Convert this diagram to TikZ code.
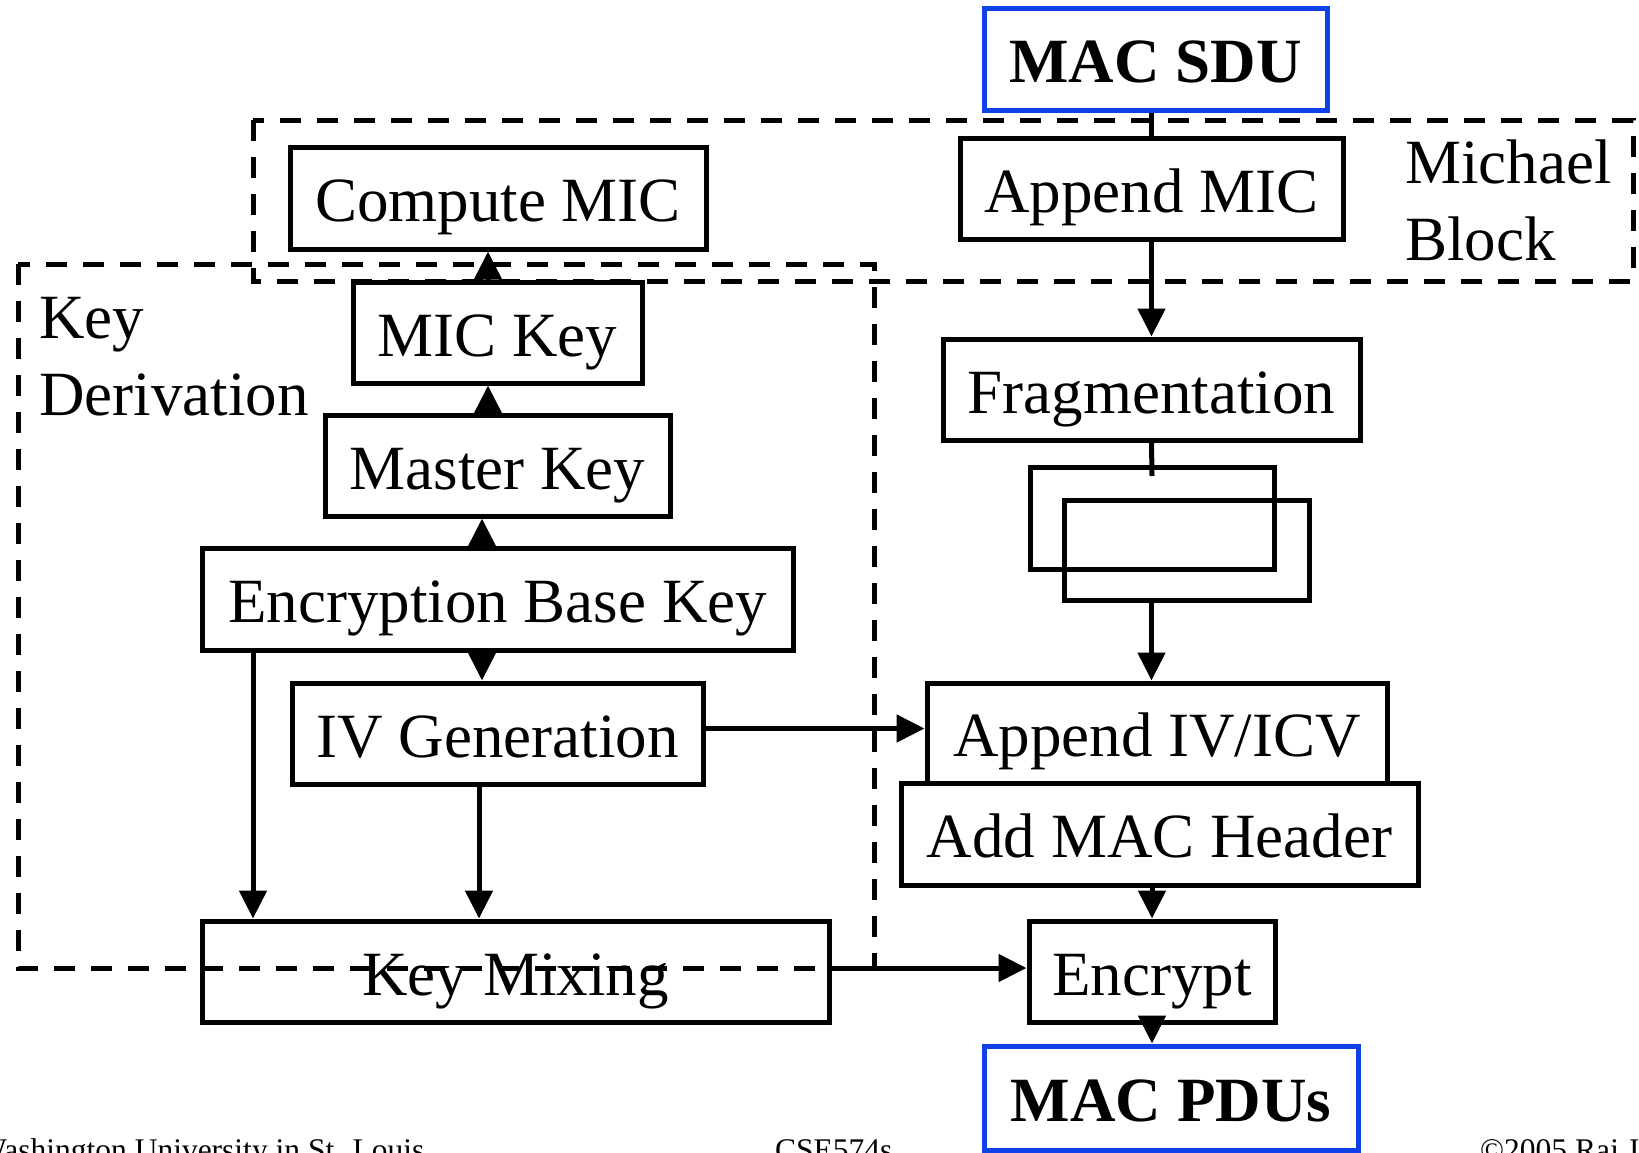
\documentclass[tikz,border=0pt]{standalone}
\usepackage{fontspec}
\setmainfont{Liberation Serif}
\usetikzlibrary{arrows.meta}
\definecolor{pblue}{RGB}{16,64,232}
\begin{document}
\begin{tikzpicture}[x=1pt,y=-1pt,
  box/.style={draw, line width=5pt, inner sep=0pt, text height=47pt, text depth=0pt, font=\fontsize{63}{76}\selectfont},
  bluebox/.style={draw=pblue, line width=5pt, inner sep=0pt, text height=47pt, text depth=0pt, font=\fontsize{63}{76}\selectfont\bfseries},
  arr/.style={line width=5pt, -{Triangle[length=28pt,width=27pt]}},
  plain/.style={line width=5pt},
  dashbox/.style={line width=5pt, dash pattern=on 21pt off 16pt},
  lbl/.style={anchor=base west, inner sep=0pt, font=\fontsize{63}{76}\selectfont},
  foot/.style={anchor=base west, inner sep=0pt, font=\fontsize{31.5}{36}\selectfont}]
\useasboundingbox (0,0) rectangle (1639,1152);
% right column
\node[bluebox, minimum width=343, minimum height=102] (sdu) at (1155.5,59) {MAC SDU};
\node[box, minimum width=383, minimum height=101] (appmic) at (1151.5,188.5) {Append MIC};
\node[box, minimum width=417, minimum height=101] (frag) at (1151.5,389.5) {Fragmentation};
\node[box, minimum width=244, minimum height=102] (fr1) at (1152,518) {};
\node[box, minimum width=245, minimum height=100] (fr2) at (1186.5,550) {};
\node[box, minimum width=460, minimum height=100] (appiv) at (1157,733) {Append IV/ICV};
\node[box, minimum width=517, minimum height=102] (addmac) at (1159.5,834) {Add MAC Header};
\node[box, minimum width=246, minimum height=101] (encr) at (1152,971.5) {Encrypt};
\node[bluebox, minimum width=374, minimum height=104] (pdus) at (1171,1098) {MAC PDUs};
% left column
\node[box, minimum width=416, minimum height=102] (cmic) at (498,198) {Compute MIC};
\node[box, minimum width=289, minimum height=101] (mickey) at (497.5,332.5) {MIC Key};
\node[box, minimum width=345, minimum height=101] (master) at (497.5,465.5) {Master Key};
\node[box, minimum width=591, minimum height=102] (ebk) at (497.5,599) {Encryption Base Key};
\node[box, minimum width=411, minimum height=101] (ivgen) at (497.5,733.5) {IV Generation};
\node[box, minimum width=627, minimum height=101] (km) at (515.5,971.5) {Key Mixing};
% labels
\node[lbl] (lmich) at (1405,183) {Michael};
\node[lbl] (lblock) at (1405,260) {Block};
\node[lbl] (lkey) at (39,338) {Key};
\node[lbl] (lderiv) at (39,415) {Derivation};
% dashed groups
\draw[dashbox] (253,120) rectangle (1633,281);
\draw[dashbox] (18,264) rectangle (874,968);
% connectors right
\draw[plain] (appmic.north |- sdu.south) -- (appmic.north);
\draw[arr] (appmic.south) -- (frag.north);
\coordinate (fragend) at (1152,476);
\draw[plain] (frag.south) -- (fragend);
\draw[arr] (fr2.south -| frag.south) -- (frag.south |- appiv.north);
\draw[arr] (encr.north |- addmac.south) -- (encr.north);
\draw[arr] (encr.south) -- (encr.south |- pdus.north);
% connectors left
\draw[arr] ([xshift=-9.5]mickey.north) -- ([xshift=-9.5]mickey.north |- cmic.south);
\draw[arr] ([xshift=-9.5]master.north) -- ([xshift=-9.5]master.north |- mickey.south);
\draw[arr] ([xshift=-15.5]ebk.north) -- ([xshift=-15.5]ebk.north |- master.south);
\draw[arr] ([xshift=-15.5]ebk.south) -- ([xshift=-15.5]ebk.south |- ivgen.north);
\draw[arr] ([xshift=-244.5]ebk.south) -- ([xshift=-244.5]ebk.south |- km.north);
\draw[arr] ([xshift=-18.5]ivgen.south) -- ([xshift=-18.5]ivgen.south |- km.north);
\draw[arr] ([yshift=5]ivgen.east) -- ([yshift=5]ivgen.east -| appiv.west);
\draw[arr] ([yshift=3.5]km.east) -- ([yshift=3.5]km.east -| encr.west);
% footer
\node[foot] (f1) at (-23,1160) {Washington University in St. Louis};
\node[foot] (f2) at (775,1160) {CSE574s};
\node[foot] (f3) at (1480,1160) {©2005 Raj Jain};
\end{tikzpicture}
\end{document}
